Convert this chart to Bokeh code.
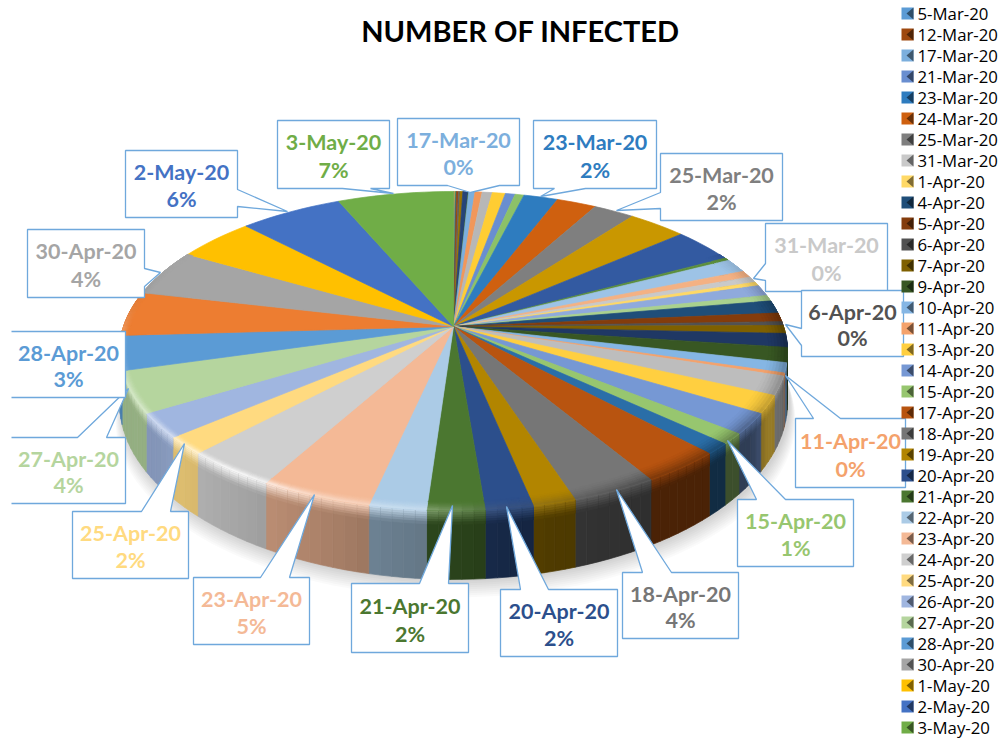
import math
import numpy as np
from bokeh.plotting import figure
from bokeh.models import Range1d
from bokeh.core.properties import value
from bokeh.embed import file_html
from bokeh.resources import INLINE

# ---- data ----
dates = ["5-Mar-20","6-Mar-20","7-Mar-20","8-Mar-20","9-Mar-20","10-Mar-20",
         "11-Mar-20","12-Mar-20","13-Mar-20","14-Mar-20","15-Mar-20","16-Mar-20",
         "17-Mar-20","18-Mar-20","19-Mar-20","20-Mar-20","21-Mar-20","22-Mar-20",
         "23-Mar-20","24-Mar-20","25-Mar-20","26-Mar-20","27-Mar-20","28-Mar-20",
         "29-Mar-20","30-Mar-20","31-Mar-20","1-Apr-20","2-Apr-20","3-Apr-20",
         "4-Apr-20","5-Apr-20","6-Apr-20","7-Apr-20","8-Apr-20","9-Apr-20",
         "10-Apr-20","11-Apr-20","12-Apr-20","13-Apr-20","14-Apr-20","15-Apr-20",
         "16-Apr-20","17-Apr-20","18-Apr-20","19-Apr-20","20-Apr-20","21-Apr-20",
         "22-Apr-20","23-Apr-20","24-Apr-20","25-Apr-20","26-Apr-20","27-Apr-20",
         "28-Apr-20","29-Apr-20","30-Apr-20","1-May-20","2-May-20","3-May-20"]
infected = [.03,.02,.02,.02,.02,.03,
            .03,.10,.10,.15,.30,.03,
            .35,.40,.57,.73,.55,.50,
            1.92,2.23,2.30,3.30,3.50,.30,
            1.40,.70,.60,.40,1.10,.60,
            1.30,.90,.40,.80,1.40,1.50,
            1.00,.30,1.90,1.80,2.10,1.10,
            1.10,3.40,3.60,1.80,2.00,2.40,
            2.40,4.70,3.90,1.80,2.50,4.20,
            3.50,4.50,4.70,4.40,5.80,6.50]
palette = ["#5B9BD5","#ED7D31","#A5A5A5","#FFC000","#4472C4","#70AD47",
           "#255E91","#9E480E","#636363","#997300","#264478","#43682B",
           "#7CAFDD","#F1975A","#B7B7B7","#FFCD33","#698ED0","#8CC168",
           "#2E7CBF","#CF600F","#7F7F7F","#C99700","#335AA1","#5C8F3C",
           "#9DC3E6","#F4B183","#C9C9C9","#FFD966","#8FAADC","#A9D18E",
           "#1F4E79","#843C0C","#525252","#7F6000","#1F3864","#385723",
           "#85B6E4","#F4A26C","#BDBDBD","#FFCF40","#7698D4","#97C66F",
           "#2A6EA8","#B85410","#767676","#B28500","#2C4F8C","#4B7730",
           "#ABCBE6","#F4B996","#CFCFCF","#FFDA80","#A0B6E0","#B5D59E",
           "#5B9BD5","#ED7D31","#A5A5A5","#FFC000","#4472C4","#70AD47"]
legend_dates = ["5-Mar-20","12-Mar-20","17-Mar-20","21-Mar-20","23-Mar-20","24-Mar-20","25-Mar-20",
                "31-Mar-20","1-Apr-20","4-Apr-20","5-Apr-20","6-Apr-20","7-Apr-20","9-Apr-20",
                "10-Apr-20","11-Apr-20","13-Apr-20","14-Apr-20","15-Apr-20","17-Apr-20","18-Apr-20",
                "19-Apr-20","20-Apr-20","21-Apr-20","22-Apr-20","23-Apr-20","24-Apr-20","25-Apr-20",
                "26-Apr-20","27-Apr-20","28-Apr-20","30-Apr-20","1-May-20","2-May-20","3-May-20"]
label_dates = ["3-May-20","17-Mar-20","23-Mar-20","25-Mar-20","31-Mar-20","6-Apr-20","11-Apr-20",
               "15-Apr-20","18-Apr-20","20-Apr-20","21-Apr-20","23-Apr-20","25-Apr-20","27-Apr-20",
               "28-Apr-20","30-Apr-20","2-May-20"]
label_percents = ["7%","0%","2%","2%","0%","0%","0%","1%","4%","2%","2%","5%","2%","4%","3%","4%","6%"]

# ---- layout (pixels of the page) ----
# box x0,y0,x1,y1, pointer side, base a, base b, tip x, tip y
callouts = {
 "3-May-20": (277,120,389,188,"b",342,370,393,193),
 "17-Mar-20":(397,118,519,185,"b",447,499,470,192),
 "23-Mar-20":(533,120,656,188,"b",554,585,540,196),
 "25-Mar-20":(660,153,782,220,"l",192,208,616,210),
 "31-Mar-20":(765,223,887,291,"l",263,280,753,278),
 "6-Apr-20": (801,290,903,356,"l",328,345,785,324),
 "11-Apr-20":(795,418,905,487,"t",813,840,785,375),
 "15-Apr-20":(737,499,853,566,"t",756,785,727,440),
 "18-Apr-20":(622,572,738,638,"t",642,671,616,489),
 "20-Apr-20":(500,589,617,656,"t",520,548,506,506),
 "21-Apr-20":(351,583,468,652,"t",419,448,452,505),
 "23-Apr-20":(193,577,309,644,"t",260,289,314,494),
 "25-Apr-20":(72,511,188,578,"t",141,170,184,443),
 "27-Apr-20":(11,437,125,503,"t",77,106,128,388),
 "28-Apr-20":(11,331,125,397,None,0,0,0,0),
 "30-Apr-20":(27,229,144,297,"r",268,286,160,272),
 "2-May-20": (125,150,237,217,"r",189,206,287,211),
}
open_left = {"27-Apr-20","28-Apr-20"}

AX, BY, S = 330.0, 155.7, 0.1536      # perspective of the disc
CX, CY = 453.0, 326.0                 # apex
KD = 49.4                             # wall depth

p = figure(width=1000, height=738, output_backend="svg", toolbar_location=None,
           x_range=Range1d(0, 1000), y_range=Range1d(738, 0),
           min_border=0, outline_line_color=None, background_fill_color="white",
           border_fill_color="white")
p.xaxis.visible = False
p.yaxis.visible = False
p.grid.visible = False


def rgb(h):
    return np.array([int(h[i:i+2], 16) for i in (1, 3, 5)], float)


def hx(c):
    c = np.clip(np.round(c), 0, 255).astype(int)
    return "#%02x%02x%02x" % tuple(c)


def pt(th, r=1.0, drop=0.0):
    u, v = r*np.sin(th), r*np.cos(th)
    w = 1 + S*v
    return CX + AX*u/w, CY - BY*v/w + drop


def depth(th):
    return KD/(1 + S*np.cos(th))**2


wall_a = [100, 118, 125, 150, 165, 180, 190, 200, 215, 228, 235, 260, 280]
wall_f = [.50, .60, .40, .40, .44, .56, .62, .70, .80, .87, .82, .82, .80]
hi_a = [120, 150, 175, 185, 200, 215, 228, 245, 260, 285]
hi_f = [0, 0, .10, .30, .40, .85, .55, .40, .30, 0]
gate_a = [50, 90, 270, 295]
gate_f = [0, 1, 1, 0]
bw_a = [100, 150, 180, 215, 260]
bw_f = [.055, .055, .04, .022, .022]

# ---- soft shadow ----
ang = np.radians(np.linspace(0, 360, 181))
for k in range(1, 10):
    sx, sy = pt(ang)
    sy = sy + depth(ang) + k*2.0
    sx = CX + (sx - CX)*(1 + 0.002*k) + 2
    p.patch(list(sx), list(sy), fill_color="#000000", fill_alpha=0.018, line_color=None)

total = sum(infected)
edges = np.cumsum([0] + infected)/total*2*math.pi

xs, ys, cols = [], [], []


def add(x, y, c):
    xs.append(list(map(float, x)))
    ys.append(list(map(float, y)))
    cols.append(c)


def rim_mid(i, d):
    face = rgb(palette[i])
    wall = face*np.interp(d, wall_a, wall_f)
    h = np.interp(d, hi_a, hi_f)
    g = np.interp(d, gate_a, gate_f)
    mid0 = face + (wall-face)*.5*(1-min(1, h*4))
    mid = mid0 + (255-mid0)*h
    return face, wall, face + (mid-face)*g


strips = []
for i, (a, b) in enumerate(zip(edges[:-1], edges[1:])):
    n = max(1, int(math.ceil((b-a)/math.radians(2))))
    e = np.linspace(a, b, n+1)
    for t0, t1 in zip(e[:-1], e[1:]):
        strips.append((i, t0, t1))

# walls
WN = 6
WT = 0.2
for i, t0, t1 in strips:
    d = math.degrees((t0+t1)/2)
    if d < 60 or d > 300:
        continue
    face, wall, mid = rim_mid(i, d)
    x0, y0 = pt(t0)
    x1, y1 = pt(t1)
    d0, d1 = depth(t0), depth(t1)
    add([x0, x1, x1, x0], [y0, y1, y1+d1, y0+d0], hx(wall))
    for j in range(WN):
        f0, f1 = WT*j/WN, WT*(j+1)/WN
        c = mid + (wall-mid)*((j+.5)/WN)
        add([x0, x1, x1, x0], [y0+d0*f0, y1+d1*f0, y1+d1*f1, y0+d0*f1], hx(c))

# faces
for i, (a, b) in enumerate(zip(edges[:-1], edges[1:])):
    n = max(1, int(math.ceil((b-a)/math.radians(2))))
    th = np.linspace(a, b, n+1)
    rx, ry = pt(th)
    add([CX]+list(rx), [CY]+list(ry), palette[i])

# bevel on the rim
RN = 6
for i, t0, t1 in strips:
    d = math.degrees((t0+t1)/2)
    if d < 60 or d > 300:
        continue
    face, wall, mid = rim_mid(i, d)
    bw = np.interp(d, bw_a, bw_f)
    for j in range(RN):
        r0, r1 = 1-bw*(1-j/RN), 1-bw*(1-(j+1)/RN)
        q = (j+1)/RN
        c = face + (mid-face)*q**1.5
        xa, ya = pt(t0, r0)
        xb, yb = pt(t1, r0)
        xc, yc = pt(t1, r1)
        xd, yd = pt(t0, r1)
        add([xa, xb, xc, xd], [ya, yb, yc, yd], hx(c))

p.patches(xs=xs, ys=ys, fill_color=cols, line_color=cols, line_width=0.7)

# ---- callouts ----
BORDER = "#6FA8DC"
FONT = value("Lato")
lx, ly, lt, lc = [], [], [], []
for name, pc in zip(label_dates, label_percents):
    x0, y0, x1, y1, side, a, b, tx, ty = callouts[name]
    if side == "b":
        px = [x0, x1, x1, b, tx, a, x0]; py = [y0, y0, y1, y1, ty, y1, y1]
    elif side == "t":
        px = [x0, a, tx, b, x1, x1, x0]; py = [y0, y0, ty, y0, y0, y1, y1]
    elif side == "l":
        px = [x0, x1, x1, x0, x0, tx, x0]; py = [y0, y0, y1, y1, b, ty, a]
    elif side == "r":
        px = [x0, x1, x1, tx, x1, x1, x0]; py = [y0, y0, a, ty, b, y1, y1]
    else:
        px = [x0, x1, x1, x0]; py = [y0, y0, y1, y1]
    p.patch(px, py, fill_color="white", line_color=None)
    if name in open_left:
        p.line(px, py, line_color=BORDER, line_width=1.3)
    else:
        p.patch(px, py, fill_color="white", line_color=BORDER, line_width=1.3)
    col = palette[dates.index(name)]
    cx = (x0+x1)/2
    lx += [cx, cx]
    ly += [y0+(y1-y0)*.32, y0+(y1-y0)*.725]
    lt += [name, pc]
    lc += [col, col]
p.text(x=lx, y=ly, text=lt, text_color=lc, text_font=FONT, text_font_style="bold",
       text_font_size="21.5px", text_align="center", text_baseline="middle")

# ---- title ----
p.text(x=[520], y=[30], text=["NUMBER OF INFECTED"], text_color="#000000", text_font=FONT,
       text_font_style="bold", text_font_size="29px", text_align="center", text_baseline="middle")

# ---- legend ----
lgy = [13 + 21.0*k for k in range(len(legend_dates))]
mx, my, mc, dx, dy, dc = [], [], [], [], [], []
for name, y in zip(legend_dates, lgy):
    c = palette[dates.index(name)]
    mx.append([901, 913, 913, 901]); my.append([y-6, y-6, y+6, y+6]); mc.append(c)
    dx.append([913, 913, 906]); dy.append([y-6, y+6, y]); dc.append(hx(rgb(c)*.5))
p.patches(xs=mx, ys=my, fill_color=mc, line_color=None)
p.patches(xs=dx, ys=dy, fill_color=dc, line_color=None)
p.text(x=[917]*len(legend_dates), y=lgy, text=legend_dates, text_color="#000000",
       text_font=value("Open Sans"), text_font_size="16.8px", text_align="left", text_baseline="middle")

open("out.html", "w").write(file_html(p, INLINE))
